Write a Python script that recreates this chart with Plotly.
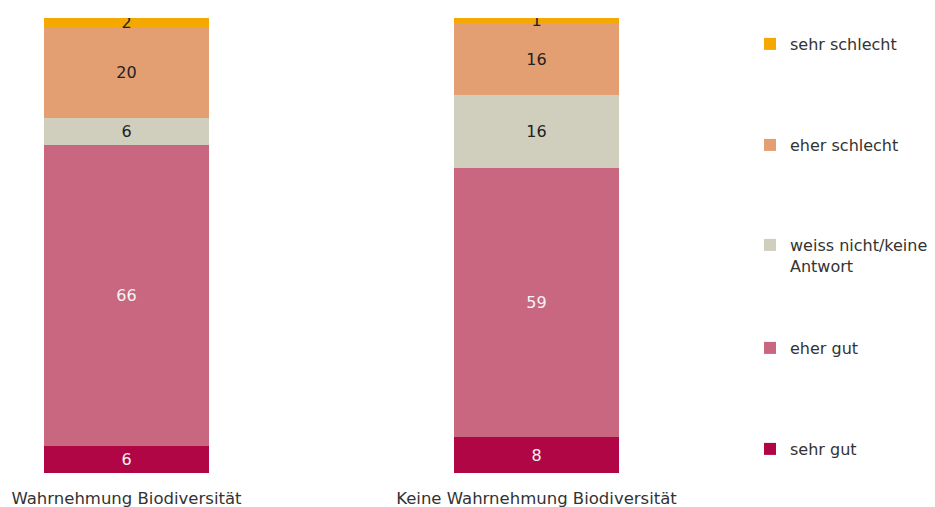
import plotly.graph_objects as go

groups = ['Wahrnehmung Biodiversität', 'Keine Wahrnehmung Biodiversität']
categories = ['sehr gut', 'eher gut', 'weiss nicht/keine<br>Antwort', 'eher schlecht', 'sehr schlecht']
sehr_gut = [6, 8]
eher_gut = [66, 59]
weiss_nicht = [6, 16]
eher_schlecht = [20, 16]
sehr_schlecht = [2, 1]

colors = ['#B00646', '#C8677F', '#D0CFBD', '#E39E72', '#F5A800']
text_colors = ['#F4F4F4', '#F4F4F4', '#222222', '#222222', '#222222']
legend_y_px = [450, 349, 246, 146, 45]
font = 'DejaVu Sans'

# the page body has an 8px margin, so the figure is drawn 8px in
OFF = 8
W, H = 935 - OFF, 507 - OFF
fig = go.Figure()

series = [sehr_gut, eher_gut, weiss_nicht, eher_schlecht, sehr_schlecht]
legend_ids = ['legend', 'legend2', 'legend3', 'legend4', 'legend5']
for i, (name, vals) in enumerate(zip(categories, series)):
	fig.add_trace(go.Bar(
		x=[0, 1], y=vals, name=name, width=0.4024,
		marker=dict(color=colors[i], line=dict(width=0)),
		text=[str(v) for v in vals], textposition='inside', textangle=0,
		insidetextanchor='middle', constraintext='none',
		textfont=dict(family=font, size=16, color=text_colors[i]),
		legend=legend_ids[i], hoverinfo='skip'
	))

layout_legends = {}
for i, lid in enumerate(legend_ids):
	layout_legends[lid] = dict(
		xref='container', yref='container', x=(750 - OFF) / W, y=1 - (legend_y_px[i] - OFF - 18) / H,
		xanchor='left', yanchor='top', valign='top',
		font=dict(family=font, size=16, color='#333333'),
		bgcolor='rgba(0,0,0,0)', borderwidth=0
	)

plot_right = 701 - OFF
fig.update_layout(
	width=W, height=H, barmode='stack', bargap=0,
	margin=dict(l=0, r=W - plot_right, t=18 - OFF, b=H - (18 - OFF) - 455, autoexpand=False),
	plot_bgcolor='white', paper_bgcolor='white',
	showlegend=True, **layout_legends
)
cx = 126.5 - OFF
fig.update_xaxes(
	range=[-cx / 410, (plot_right - cx) / 410], tickvals=[0, 1], ticktext=groups,
	showgrid=False, zeroline=False, showline=False, ticks='',
	ticklabelstandoff=13, automargin=False,
	tickfont=dict(family=font, size=16.5, color='#333333')
)
fig.update_yaxes(range=[0, 100], visible=False, automargin=False)

fig.write_html('out.html')
